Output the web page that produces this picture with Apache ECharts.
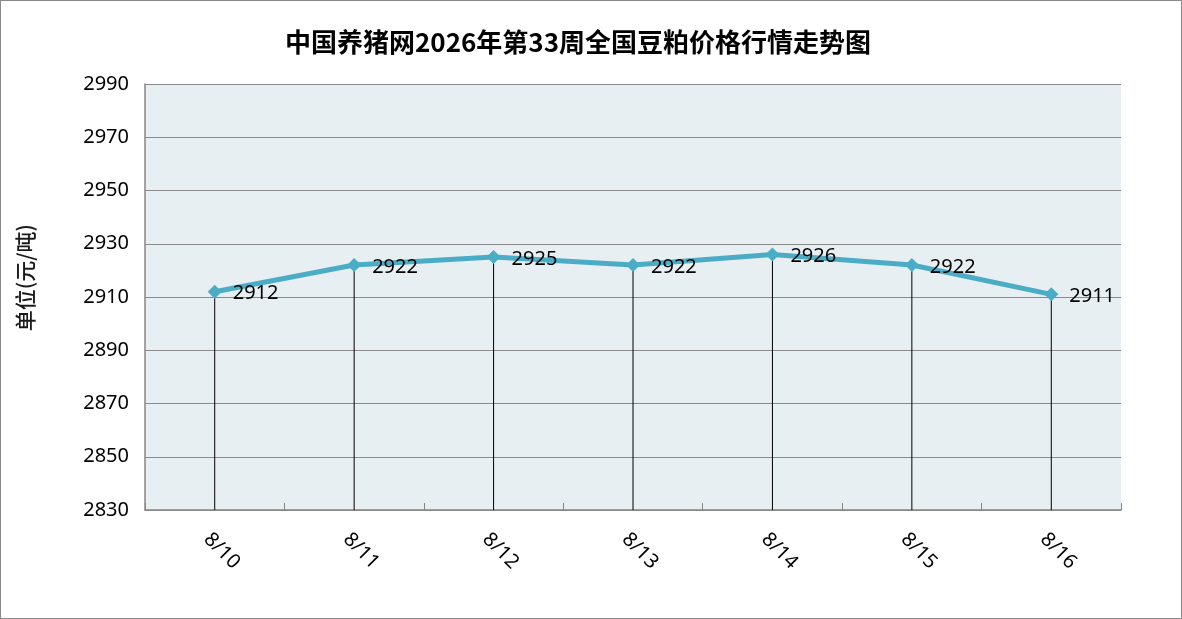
<!DOCTYPE html>
<html>
<head>
<meta charset="utf-8">
<script src="https://cdn.jsdelivr.net/npm/echarts@6/dist/echarts.min.js"></script>
<style>
  html, body { margin: 0; padding: 0; background: #fff; }
  #chart { width: 1182px; height: 619px; box-sizing: border-box; border: 1px solid #8a8a8a; }
</style>
</head>
<body>
<div id="chart"></div>
<script>
// 数据
const titleText = '中国养猪网2026年第33周全国豆粕价格行情走势图';
const yName = '单位(元/吨)';
const dates = ['8/10', '8/11', '8/12', '8/13', '8/14', '8/15', '8/16'];
const prices = [2912, 2922, 2925, 2922, 2926, 2922, 2911];
const yMin = 2830;
const yMax = 2990;
const yStep = 20;

const numFont = '"Noto Sans", "Open Sans", sans-serif';

const chart = echarts.init(document.getElementById('chart'));

chart.setOption({
  animation: false,
  title: {
    text: titleText,
    left: 279,
    top: 23,
    textStyle: {
      fontFamily: '"Noto Sans CJK SC", sans-serif',
      fontSize: 26,
      fontWeight: 'bold',
      color: '#000'
    }
  },
  graphic: [
    {
      // Y轴单位
      type: 'text',
      left: 14,
      top: 223,
      style: {
        text: yName,
        fontFamily: '"Noto Sans CJK SC", sans-serif',
        fontSize: 21,
        fontWeight: 500,
        fill: '#1a1a1a'
      },
      rotation: Math.PI / 2
    }
  ],
  grid: {
    left: 144,
    right: 60,
    top: 83,
    bottom: 108,
    show: true,
    backgroundColor: '#e8eff3',
    borderWidth: 0
  },
  xAxis: {
    type: 'category',
    data: dates,
    boundaryGap: true,
    axisLine: { lineStyle: { color: '#868686', width: 1.5 } },
    axisTick: { show: true, inside: true, length: 7, lineStyle: { color: '#868686' } },
    axisLabel: {
      rotate: -45,
      align: 'center',
      verticalAlign: 'bottom',
      margin: 48,
      fontFamily: numFont,
      fontSize: 20,
      color: '#000'
    }
  },
  yAxis: {
    type: 'value',
    min: yMin,
    max: yMax,
    interval: yStep,
    axisLine: { show: true, lineStyle: { color: '#868686', width: 1.5 } },
    axisTick: { show: false },
    splitLine: { lineStyle: { color: '#8a8a8a', width: 1 } },
    axisLabel: {
      margin: 16,
      formatter: v => String(v),
      fontFamily: numFont,
      fontSize: 20,
      color: '#000'
    }
  },
  series: [
    {
      // 垂直线
      type: 'bar',
      data: prices,
      barWidth: 1,
      silent: true,
      itemStyle: { color: '#000' },
      z: 1
    },
    {
      type: 'line',
      data: prices,
      symbol: 'diamond',
      symbolSize: 14,
      lineStyle: { color: '#4bacc6', width: 5 },
      itemStyle: { color: '#4bacc6' },
      label: {
        show: true,
        position: 'right',
        distance: 11,
        offset: [0, 2],
        fontFamily: numFont,
        fontSize: 20,
        color: '#000'
      },
      z: 3
    }
  ]
});
</script>
</body>
</html>
